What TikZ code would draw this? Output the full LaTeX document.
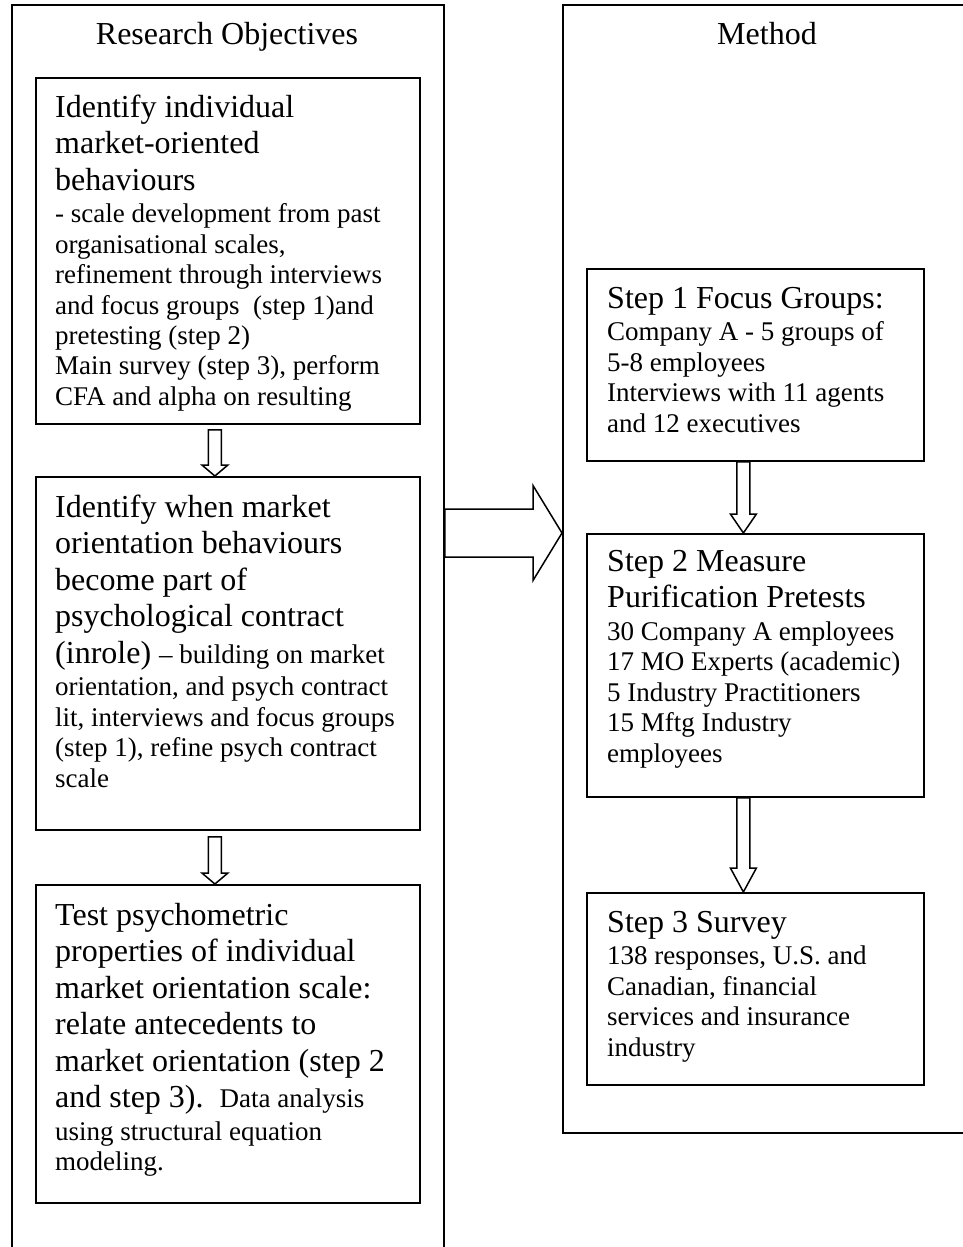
\documentclass[tikz,border=0pt]{standalone}
\usepackage{fontspec}
\setmainfont{Liberation Serif}
\usetikzlibrary{calc}

% heading size and body size, with their line pitches
\newcommand\bigtxt{\fontsize{32}{36.5}\selectfont}
\newcommand\smalltxt{\fontsize{27}{30.4}\selectfont}
\newcommand\gap{\par\vspace{2.5pt}}
% natural word spaces of the current font, ragged right
\newcommand\natsp{\spaceskip=0pt\xspaceskip=0pt\leftskip=0pt\rightskip=0pt plus 1fil\relax}

% hollow block arrows: start, tip, shaft half width, head half width, head length
\newcommand\hollowdown[5]{%
  \draw[blockarrow] let \p1=(#1), \p2=(#2) in
    (\x1-#3,\y1) -- (\x1-#3,\y2+#5) -- (\x1-#4,\y2+#5) -- (\x1,\y2)
    -- (\x1+#4,\y2+#5) -- (\x1+#3,\y2+#5) -- (\x1+#3,\y1) -- cycle;}
\newcommand\hollowright[5]{%
  \draw[blockarrow] let \p1=(#1), \p2=(#2) in
    (\x1,\y1+#3) -- (\x2-#5,\y1+#3) -- (\x2-#5,\y1+#4) -- (\x2,\y1)
    -- (\x2-#5,\y1-#4) -- (\x2-#5,\y1-#3) -- (\x1,\y1-#3) -- cycle;}

\begin{document}
\begin{tikzpicture}[x=1pt,y=-1pt,
  frame/.style={draw, line width=1.8pt, inner sep=0pt, anchor=north west},
  stepbox/.style={draw, line width=1.8pt, inner sep=0pt, anchor=north west},
  title/.style={anchor=base, inner sep=0pt, font=\bigtxt},
  lefttext/.style={anchor=base west, inner sep=0pt, text width=365pt},
  righttext/.style={anchor=base west, inner sep=0pt, text width=310pt},
  blockarrow/.style={draw, line width=1.5pt, fill=white, line join=miter}]

\useasboundingbox (0,0) rectangle (962,1247);
\fill[white] (0,0) rectangle (962,1247);

% the two columns
\node[frame, minimum width=432pt, minimum height=1300pt] (objframe) at (11,4) {};
\node[frame, minimum width=410pt, minimum height=1128pt] (methframe) at (562,4) {};
\node[title] (objtitle) at (227,45) {Research Objectives};
\node[title] (methtitle) at (767,45) {Method};

% research objectives
\node[stepbox, minimum width=384pt, minimum height=346pt] (obj1) at (35,77) {};
\node[stepbox, minimum width=384pt, minimum height=353pt] (obj2) at (35,476) {};
\node[stepbox, minimum width=384pt, minimum height=318pt] (obj3) at (35,884) {};

\node[lefttext] (obj1text) at (55,117) {\natsp
{\bigtxt Identify individual\\ market-oriented\\ behaviours\gap}%
{\smalltxt - scale development from past\\ organisational scales,\\ refinement through interviews\\ and focus groups\ \ (step 1)and\\ pretesting (step 2)\\ Main survey (step 3), perform\\ CFA and alpha on resulting\par}};

\node[lefttext] (obj2text) at (55,517) {\natsp
{\bigtxt Identify when market\\ orientation behaviours\\ become part of\\ psychological contract\\ (inrole) {\smalltxt -- building on market}\gap}%
{\smalltxt orientation, and psych contract\\ lit, interviews and focus groups\\ (step 1), refine psych contract\\ scale\par}};

\node[lefttext] (obj3text) at (55,925) {\natsp
{\bigtxt Test psychometric\\ properties of individual\\ market orientation scale:\\ relate antecedents to\\ market orientation (step 2\\ and step 3).\ \ {\smalltxt Data analysis}\gap}%
{\smalltxt using structural equation\\ modeling.\par}};

% method steps
\node[stepbox, minimum width=337pt, minimum height=192pt] (st1) at (586,268) {};
\node[stepbox, minimum width=337pt, minimum height=263pt] (st2) at (586,533) {};
\node[stepbox, minimum width=337pt, minimum height=192pt] (st3) at (586,892) {};

\node[righttext] (st1text) at (607,308) {\natsp
{\bigtxt Step 1 Focus Groups:\gap}%
{\smalltxt Company A - 5 groups of\\ 5-8 employees\\ Interviews with 11 agents\\ and 12 executives\par}};

\node[righttext] (st2text) at (607,571) {\natsp
{\bigtxt Step 2 Measure\\ Purification Pretests\gap}%
{\smalltxt 30 Company A employees\\ 17 MO Experts (academic)\\ 5 Industry Practitioners\\ 15 Mftg Industry\\ employees\par}};

\node[righttext] (st3text) at (607,932) {\natsp
{\bigtxt Step 3 Survey\gap}%
{\smalltxt 138 responses, U.S. and\\ Canadian, financial\\ services and insurance\\ industry\par}};

% connectors
\hollowdown{$(obj1.south)+(-13,5)$}{$(obj2.north)+(-13,0)$}{6.5}{13}{11}
\hollowdown{$(obj2.south)+(-13,6)$}{$(obj3.north)+(-13,0)$}{6.5}{13}{11}
\hollowdown{$(st1.south)+(-12,0)$}{$(st2.north)+(-12,0)$}{6.5}{13}{19}
\hollowdown{$(st2.south)+(-12,0)$}{$(st3.north)+(-12,0)$}{6.5}{13}{24}
\hollowright{objframe.east |- st2.north}{methframe.west |- st2.north}{24}{47.5}{29}

\end{tikzpicture}
\end{document}
